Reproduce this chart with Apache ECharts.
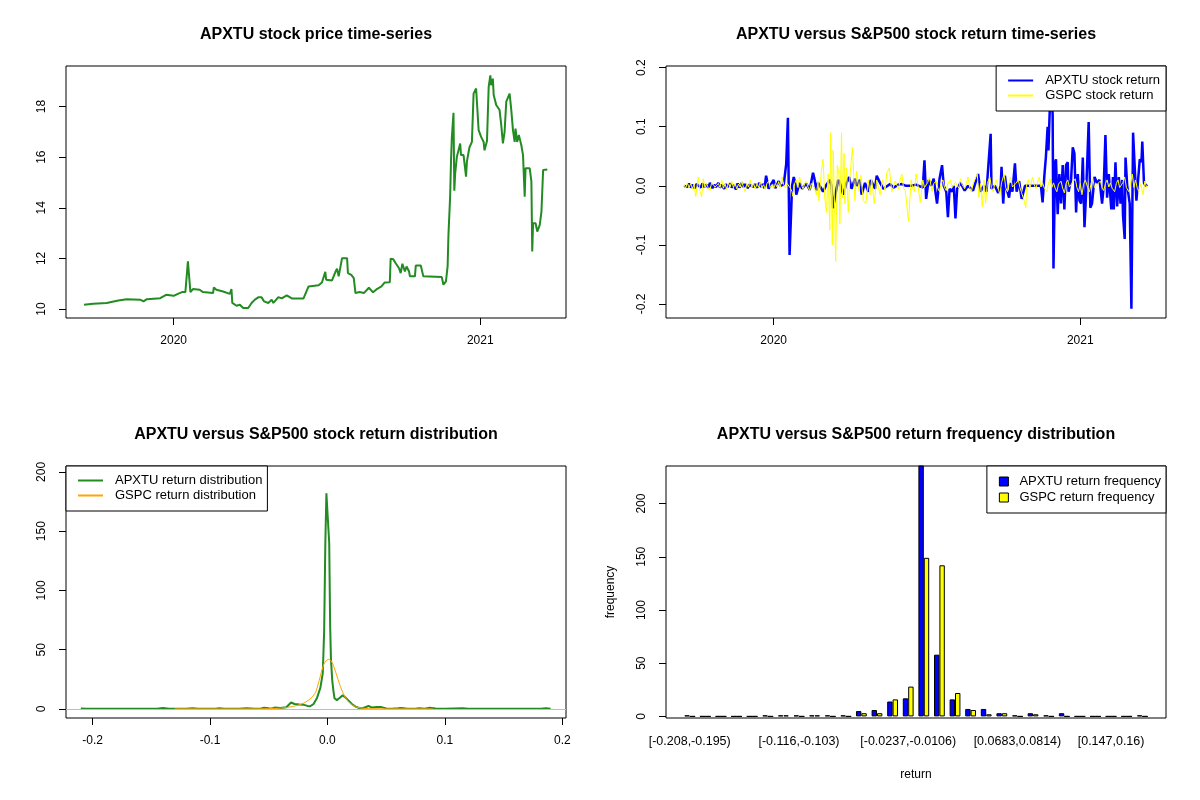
<!DOCTYPE html>
<html>
<head>
<meta charset="utf-8">
<script src="https://cdn.jsdelivr.net/npm/echarts@6/dist/echarts.min.js"></script>
<style>
  html, body { margin: 0; padding: 0; background: #fff; }
  #main { width: 1200px; height: 800px; }
</style>
</head>
<body>
<div id="main"></div>
<script>
// trading days counted from 2019-09-16
var DAY = 86400000;
var T0 = Date.UTC(2019, 8, 16);
function day(s) { return T0 + s * DAY; }

var yearTicks = ['2020-01-01', '2021-01-01'];

// [day, close price]
var apxtuPrice = [
  [0,10.17],[11,10.21],[27,10.24],[41,10.34],[51,10.39],[67,10.37],[71,10.30],[75,10.39],[91,10.43],[98,10.56],
  [107,10.52],[112,10.60],[117,10.67],[121,10.67],[124,11.88],[126,11.88],[127,10.67],[130,10.79],[138,10.76],[142,10.67],
  [154,10.63],[155,10.85],[158,10.76],[166,10.69],[174,10.60],[176,10.79],[177,10.24],[182,10.13],[186,10.17],[190,10.04],
  [196,10.04],[200,10.24],[204,10.37],[208,10.46],[212,10.46],[215,10.30],[220,10.24],[224,10.37],[226,10.24],[232,10.47],
  [236,10.42],[242,10.54],[248,10.42],[262,10.42],[268,10.89],[280,10.94],[284,11.05],[288,11.47],[289,11.16],[296,11.13],
  [300,11.46],[302,11.59],[304,11.29],[308,12.01],[314,12.01],[315,11.42],[319,11.35],[322,11.22],[324,10.63],[329,10.67],
  [331,10.73],[334,10.63],[336,10.56],[340,10.84],[345,10.66],[350,10.80],[352,10.76],[355,10.89],[359,11.05],[365,11.06],
  [366,11.99],[369,11.97],[372,11.81],[376,11.61],[378,11.42],[380,11.79],[383,11.48],[385,11.68],[388,11.48],[389,11.29],
  [395,11.29],[396,11.72],[402,11.72],[405,11.29],[427,11.26],[429,10.96],[432,11.09],[434,11.68],[435,12.93],[437,14.44],
  [438,15.79],[439,16.74],[441,17.75],[442,14.67],[443,15.35],[445,16.01],[447,16.27],[449,16.54],[450,16.08],[453,16.08],
  [456,15.23],[457,15.82],[460,16.38],[463,16.60],[465,18.51],[468,18.71],[470,18.75],[471,17.07],[474,16.80],[477,16.60],
  [478,16.27],[479,16.27],[481,16.64],[482,16.64],[483,18.77],[485,19.23],[486,18.84],[488,19.10],[489,18.45],[492,18.06],
  [496,17.86],[498,17.27],[500,16.54],[502,17.00],[504,18.19],[506,18.19],[508,18.51],[510,17.86],[512,17.07],[514,16.60],
  [515,17.13],[517,16.60],[519,16.87],[522,16.47],[524,16.08],[526,14.44],[527,15.56],[532,15.56],[534,15.03],[535,12.27],
  [536,13.39],[539,13.39],[541,13.06],[544,13.32],[546,13.85],[548,15.49],[553,15.51]
];

// [day, daily return]
var apxtuReturn = [
  [0,0.000],[2,0.003],[4,-0.002],[6,0.004],[8,-0.003],[10,0.002],[13,-0.004],[15,0.003],[17,0.001],[20,-0.003],
  [22,0.004],[24,-0.002],[27,0.002],[29,-0.003],[31,0.005],[34,-0.004],[36,0.002],[38,-0.002],[41,0.005],[43,-0.003],
  [45,0.002],[48,-0.005],[50,0.003],[52,-0.002],[55,0.004],[57,-0.003],[59,0.001],[62,-0.006],[64,0.004],[66,-0.003],
  [69,0.005],[71,-0.002],[73,0.003],[76,-0.004],[78,0.002],[80,0.004],[83,-0.002],[85,0.003],[87,-0.003],[90,0.005],
  [92,-0.002],[94,0.003],[96,-0.004],[98,0.017],[101,-0.005],[104,0.003],[107,0.010],[109,-0.004],[113,0.008],[115,0.000],
  [119,0.002],[122,0.037],[124,0.115],[125,0.115],[126,-0.117],[127,-0.117],[129,0.000],[131,0.015],[133,0.003],[134,-0.015],
  [138,0.005],[141,-0.005],[146,0.004],[150,-0.007],[154,0.022],[156,0.010],[158,-0.008],[160,0.005],[166,-0.010],[170,0.002],
  [174,0.010],[176,0.000],[178,-0.038],[180,-0.020],[184,0.010],[186,0.005],[190,-0.015],[194,0.005],[197,0.015],[200,-0.005],
  [204,0.012],[206,0.000],[210,0.010],[212,-0.015],[216,0.005],[220,-0.010],[223,0.010],[228,-0.005],[230,0.017],[234,0.005],
  [238,-0.005],[246,0.003],[250,-0.003],[256,0.002],[260,0.003],[265,0.000],[271,0.000],[277,0.002],[285,-0.003],[287,0.043],
  [289,-0.022],[292,0.010],[295,0.000],[298,0.012],[302,-0.030],[305,0.012],[308,0.035],[310,0.000],[313,-0.010],[315,-0.053],
  [317,-0.005],[320,-0.010],[322,0.000],[324,-0.055],[326,-0.005],[330,0.005],[335,-0.008],[339,0.000],[345,-0.008],[351,0.020],
  [354,-0.010],[358,0.000],[361,-0.010],[366,0.088],[367,-0.005],[371,0.000],[375,-0.012],[378,0.000],[379,0.032],[381,-0.030],
  [383,0.017],[385,-0.005],[388,-0.020],[390,0.005],[392,-0.010],[395,0.038],[397,-0.010],[400,0.008],[403,-0.022],[405,-0.025],
  [407,0.000],[413,0.000],[422,0.000],[426,0.000],[428,-0.028],[430,0.015],[432,0.050],[434,0.100],[435,0.060],[436,0.105],
  [438,0.187],[440,0.120],[441,-0.140],[443,0.040],[444,0.045],[446,-0.048],[448,0.020],[450,-0.030],[452,0.035],[454,-0.040],
  [456,0.035],[458,0.040],[459,-0.010],[462,0.010],[464,0.065],[466,0.055],[468,-0.045],[470,0.020],[472,-0.025],[474,-0.030],
  [476,0.048],[478,-0.070],[480,-0.010],[483,0.108],[485,-0.037],[487,-0.030],[490,0.015],[493,0.005],[496,0.010],[499,-0.030],
  [501,0.000],[503,0.086],[505,-0.020],[507,0.020],[510,-0.040],[512,0.015],[513,-0.040],[515,0.040],[517,-0.035],[519,0.015],
  [521,-0.030],[523,0.010],[524,-0.050],[526,-0.090],[527,0.048],[529,0.000],[532,-0.030],[534,-0.208],[536,0.090],[538,0.030],
  [540,-0.025],[542,0.010],[544,0.045],[546,0.040],[547,0.075],[549,0.005],[551,0.000],[553,0.002]
];

var gspcReturn = [
  [0,0.002],[2,-0.004],[4,0.005],[6,-0.003],[8,0.004],[10,-0.005],[12,0.003],[14,-0.018],[17,0.015],[19,-0.010],
  [21,-0.018],[23,0.012],[25,-0.003],[27,0.004],[29,-0.004],[31,-0.008],[33,0.006],[35,0.008],[37,-0.002],[39,-0.005],
  [41,0.004],[43,-0.003],[45,0.010],[47,-0.004],[49,0.003],[51,-0.006],[53,0.005],[55,-0.002],[57,0.008],[59,-0.003],
  [61,0.004],[63,-0.005],[65,0.003],[67,-0.002],[69,0.008],[71,-0.003],[73,-0.010],[75,0.004],[77,-0.002],[79,0.010],
  [81,-0.003],[83,0.004],[85,-0.005],[87,0.003],[89,-0.002],[91,0.006],[93,-0.003],[95,0.002],[97,-0.006],[99,0.004],
  [101,0.008],[103,-0.003],[105,0.002],[107,-0.005],[109,0.004],[111,-0.002],[113,0.007],[115,-0.003],[117,0.015],[119,0.002],
  [121,-0.003],[123,0.004],[125,0.005],[127,-0.004],[129,-0.010],[130,-0.018],[132,0.004],[134,0.010],[136,-0.003],[138,0.015],
  [140,0.002],[142,-0.005],[144,0.003],[146,0.008],[148,-0.002],[150,-0.008],[152,0.004],[154,0.005],[156,-0.004],[158,-0.015],
  [160,0.008],[161,-0.025],[164,0.025],[166,0.045],[168,-0.020],[170,-0.045],[172,0.020],[174,-0.075],[175,0.090],[177,-0.100],
  [178,0.060],[180,-0.050],[181,-0.128],[183,0.035],[185,0.020],[186,-0.065],[188,0.090],[189,-0.020],[191,0.055],[192,-0.030],
  [194,0.030],[196,-0.045],[198,0.015],[201,0.065],[204,-0.025],[206,0.025],[209,-0.010],[211,0.018],[214,-0.025],[217,-0.030],
  [220,0.010],[222,-0.015],[224,0.012],[227,-0.030],[230,0.010],[234,-0.015],[237,0.010],[240,-0.008],[242,0.022],[245,0.030],
  [248,-0.010],[252,0.008],[256,-0.005],[258,0.010],[260,0.020],[262,-0.004],[264,-0.008],[268,-0.060],[271,0.010],[273,-0.004],
  [275,-0.010],[277,0.020],[279,0.003],[282,-0.028],[285,0.010],[287,-0.003],[289,-0.005],[291,0.006],[293,0.015],[296,-0.010],
  [298,0.004],[301,0.008],[303,-0.004],[305,-0.010],[307,0.005],[309,0.010],[311,-0.003],[313,-0.008],[315,0.004],[318,0.010],
  [320,-0.003],[322,-0.005],[324,0.006],[326,0.005],[328,-0.004],[330,0.012],[332,0.002],[335,-0.005],[337,0.004],[339,0.015],
  [341,-0.003],[343,-0.010],[345,0.004],[347,0.010],[350,0.020],[352,-0.020],[354,0.004],[356,-0.035],[358,0.010],[360,-0.030],
  [362,0.004],[365,0.015],[367,-0.003],[369,-0.010],[371,0.004],[373,0.010],[375,-0.004],[377,-0.015],[379,0.005],[382,0.020],
  [384,-0.003],[386,-0.010],[388,0.006],[390,0.015],[392,-0.002],[394,-0.005],[396,0.004],[399,0.010],[401,-0.003],[403,-0.012],
  [406,-0.025],[408,-0.037],[409,0.003],[411,0.010],[413,-0.004],[416,0.015],[418,0.002],[420,-0.005],[422,0.006],[424,0.015],
  [426,-0.002],[428,0.005],[430,-0.004],[433,-0.010],[435,0.004],[437,0.012],[439,-0.003],[441,0.005],[443,-0.004],[445,-0.010],
  [447,0.003],[450,0.008],[452,-0.004],[454,-0.012],[456,0.004],[458,0.010],[460,-0.002],[462,-0.005],[464,0.006],[467,0.012],
  [469,-0.003],[471,-0.010],[473,0.004],[475,-0.015],[477,0.003],[479,0.010],[482,-0.004],[484,-0.010],[486,0.005],[488,0.012],
  [490,-0.003],[492,-0.005],[494,0.004],[497,0.008],[499,-0.003],[501,-0.008],[503,0.004],[505,0.010],[507,-0.002],[509,0.005],
  [511,-0.004],[514,-0.010],[516,0.004],[518,0.010],[520,-0.003],[522,-0.005],[524,0.006],[526,0.015],[528,-0.003],[531,-0.010],
  [533,0.004],[535,0.020],[537,-0.003],[539,0.010],[541,-0.004],[543,-0.010],[545,0.004],[548,-0.015],[550,0.008],[552,-0.002],
  [553,0.000]
];

// [return, density]
var apxtuDensity = [
  [-0.210,0.5],[-0.205,0.3],[-0.190,0.2],[-0.170,0.2],[-0.145,0.2],[-0.140,0.8],[-0.135,0.2],[-0.120,0.2],[-0.115,0.7],[-0.110,0.2],
  [-0.095,0.2],[-0.092,0.6],[-0.088,0.2],[-0.075,0.2],[-0.069,0.6],[-0.062,0.3],[-0.057,0.3],[-0.054,1.0],[-0.050,0.6],[-0.047,0.5],
  [-0.045,1.2],[-0.040,0.8],[-0.035,1.5],[-0.031,5.5],[-0.028,4.2],[-0.024,3.8],[-0.020,3.5],[-0.017,2.6],[-0.015,2.2],[-0.012,4.0],
  [-0.009,9.0],[-0.006,18],[-0.004,30],[-0.0028,66],[-0.0018,140],[-0.0009,182],[0.0007,183],[0.0015,140],[0.0023,70],[0.003,42],
  [0.004,25],[0.005,16],[0.006,9],[0.008,7.5],[0.010,9],[0.013,11.5],[0.015,10],[0.018,7],[0.021,4],[0.024,2],
  [0.027,0.8],[0.030,0.6],[0.035,2.5],[0.038,1.2],[0.042,1.6],[0.046,1.6],[0.050,0.5],[0.055,0.2],[0.060,0.6],[0.063,0.9],
  [0.068,0.3],[0.075,0.2],[0.078,0.6],[0.083,0.2],[0.087,1.1],[0.092,0.4],[0.100,0.2],[0.108,0.5],[0.115,0.6],[0.120,0.3],
  [0.140,0.1],[0.170,0.1],[0.182,0.2],[0.186,0.6],[0.190,0.2]
];

var gspcDensity = [
  [-0.130,0.1],[-0.120,0.1],[-0.100,0.05],[-0.080,0.05],[-0.060,0.1],[-0.050,0.3],[-0.040,0.7],[-0.035,1.2],[-0.030,2.0],[-0.025,3.2],
  [-0.020,5.0],[-0.016,7.5],[-0.013,10],[-0.010,14],[-0.007,24],[-0.005,32],[-0.003,38],[-0.001,41],[0.001,42],[0.003,41],
  [0.005,37],[0.007,31],[0.009,25],[0.011,19],[0.013,14],[0.015,10],[0.018,6],[0.021,3.5],[0.024,1.8],[0.028,0.8],
  [0.035,0.3],[0.050,0.1],[0.070,0.1],[0.090,0.05]
];

var binLabels = [
  '[-0.208,-0.195)','[-0.195,-0.181)','[-0.181,-0.168)','[-0.168,-0.155)','[-0.155,-0.142)',
  '[-0.142,-0.129)','[-0.129,-0.116)','[-0.116,-0.103)','[-0.103,-0.0894)','[-0.0894,-0.0763)',
  '[-0.0763,-0.0631)','[-0.0631,-0.05)','[-0.05,-0.0368)','[-0.0368,-0.0237)','[-0.0237,-0.0106)',
  '[-0.0106,0.00257)','[0.00257,0.0157)','[0.0157,0.0289)','[0.0289,0.042)','[0.042,0.0552)',
  '[0.0552,0.0683)','[0.0683,0.0814)','[0.0814,0.0946)','[0.0946,0.108)','[0.108,0.121)',
  '[0.121,0.134)','[0.134,0.147)','[0.147,0.16)','[0.16,0.173)','[0.173,0.187]'
];
var apxtuFreq = [1,0,0,0,0,1,1,1,1,1,1,5,6,14,17,236,58,16,7,7,3,1,3,1,3,0,0,0,0,1];
var gspcFreq  = [0,0,0,0,0,0,1,0,1,0,0,3,3,16,28,149,142,22,6,2,3,0,2,0,0,0,0,0,0,0];
var shownBins = [0, 7, 14, 21, 27];

var FONT = 'Liberation Sans, Arial, sans-serif';

// dates go on a plain value axis holding UTC timestamps
function dateAxis(gi) {
  var ticks = yearTicks.map(function (d) { return Date.parse(d + 'T00:00:00Z'); });
  return {
    type: 'value', gridIndex: gi,
    min: day(-21.5), max: day(575.3),
    axisLine: { show: false, onZero: false },
    splitLine: { show: false },
    axisTick: { show: true, length: 7, lineStyle: { color: '#000' }, customValues: ticks },
    axisLabel: {
      customValues: ticks, margin: 17, color: '#000', fontSize: 12, fontFamily: FONT,
      formatter: function (v) { return String(new Date(v).getUTCFullYear()); }
    }
  };
}

function valAxis(gi, min, max, ticks, digits, isY) {
  return {
    type: 'value', gridIndex: gi, min: min, max: max,
    axisLine: { show: false, onZero: false },
    splitLine: { show: false },
    axisTick: { show: true, length: 7, lineStyle: { color: '#000' }, customValues: ticks },
    axisLabel: {
      customValues: ticks, margin: isY ? 18 : 17, rotate: isY ? 90 : 0,
      color: '#000', fontSize: 12, fontFamily: FONT,
      formatter: function (v) { return v.toFixed(digits); }
    }
  };
}

function legendBox(o) {
  return Object.assign({
    orient: 'vertical', selectedMode: false,
    backgroundColor: '#fff', borderColor: '#000', borderWidth: 1, borderRadius: 0,
    itemGap: 2, itemHeight: 14, itemWidth: 25,
    itemStyle: { opacity: 0 },
    textStyle: { color: '#000', fontSize: 13, fontFamily: FONT, padding: [0, 0, 0, 7] }
  }, o);
}

function titleAt(text, x, y) {
  return {
    text: text, left: x, top: y, textAlign: 'center', padding: 0,
    textStyle: { fontSize: 16, fontWeight: 'bold', color: '#000', fontFamily: FONT }
  };
}

var chart = echarts.init(document.getElementById('main'), null, { renderer: 'canvas' });

var option = {
  animation: false,
  backgroundColor: '#fff',
  title: [
    titleAt('APXTU stock price time-series', 316, 27),
    titleAt('APXTU versus S&P500 stock return time-series', 916, 27),
    titleAt('APXTU versus S&P500 stock return distribution', 316, 427),
    titleAt('APXTU versus S&P500 return frequency distribution', 916, 427)
  ],
  grid: [
    { left: 66, top: 66, width: 500, height: 252, show: true, borderColor: '#000', borderWidth: 1 },
    { left: 666, top: 66, width: 500, height: 252, show: true, borderColor: '#000', borderWidth: 1 },
    { left: 66, top: 466, width: 500, height: 252, show: true, borderColor: '#000', borderWidth: 1 },
    { left: 666, top: 466, width: 500, height: 252, show: true, borderColor: '#000', borderWidth: 1 }
  ],
  legend: [
    legendBox({
      right: 34, top: 66, padding: [8, 6, 9, 11],
      data: ['APXTU stock return', 'GSPC stock return']
    }),
    legendBox({
      left: 66, top: 466, padding: [8, 5, 9, 11],
      data: ['APXTU return distribution', 'GSPC return distribution']
    }),
    legendBox({
      right: 34, top: 466, padding: [9, 5, 9, 12],
      itemWidth: 9, itemHeight: 9, itemGap: 3, icon: 'rect',
      itemStyle: { borderColor: '#000', borderWidth: 1 },
      textStyle: { color: '#000', fontSize: 13, fontFamily: FONT, padding: [0, 0, 0, 6] },
      data: ['APXTU return frequency', 'GSPC return frequency']
    })
  ],
  xAxis: [
    dateAxis(0),
    dateAxis(1),
    valAxis(2, -0.2226, 0.2031, [-0.2, -0.1, 0, 0.1, 0.2], 1, false),
    {
      type: 'value', gridIndex: 3, min: -2.56, max: 93.56,
      name: 'return', nameLocation: 'middle', nameGap: 51,
      nameTextStyle: { color: '#000', fontSize: 12, fontFamily: FONT },
      axisLine: { show: false, onZero: false }, axisTick: { show: false }, splitLine: { show: false },
      axisLabel: {
        customValues: shownBins.map(function (k) { return 3 * k + 2; }),
        margin: 17, color: '#000', fontSize: 12.5, fontFamily: FONT,
        formatter: function (v) { return binLabels[Math.round((v - 2) / 3)]; }
      }
    }
  ],
  yAxis: [
    valAxis(0, 9.645, 19.6, [10, 12, 14, 16, 18], 0, true),
    valAxis(1, -0.2237, 0.2028, [-0.2, -0.1, 0, 0.1, 0.2], 1, true),
    valAxis(2, -7.6, 205, [0, 50, 100, 150, 200], 0, true),
    Object.assign(valAxis(3, -1.5, 235.3, [0, 50, 100, 150, 200], 0, true), {
      name: 'frequency', nameLocation: 'middle', nameGap: 49, nameRotate: 90,
      nameTextStyle: { color: '#000', fontSize: 12, fontFamily: FONT }
    })
  ],
  series: [
    {
      name: 'APXTU price', type: 'line', xAxisIndex: 0, yAxisIndex: 0,
      symbol: 'none', lineStyle: { color: '#228B22', width: 2 }, itemStyle: { color: '#228B22' },
      data: apxtuPrice.map(function (p) { return [day(p[0]), p[1]]; })
    },
    {
      name: 'APXTU stock return', type: 'line', xAxisIndex: 1, yAxisIndex: 1,
      symbol: 'none', lineStyle: { color: '#0000FF', width: 2.5 }, itemStyle: { color: '#0000FF' },
      data: apxtuReturn.map(function (p) { return [day(p[0]), p[1]]; })
    },
    {
      name: 'GSPC stock return', type: 'line', xAxisIndex: 1, yAxisIndex: 1,
      symbol: 'none', lineStyle: { color: '#FFFF00', width: 1 }, itemStyle: { color: '#FFFF00' },
      data: gspcReturn.map(function (p) { return [day(p[0]), p[1]]; })
    },
    {
      name: 'APXTU return distribution', type: 'line', xAxisIndex: 2, yAxisIndex: 2,
      symbol: 'none', lineStyle: { color: '#228B22', width: 2 }, itemStyle: { color: '#228B22' },
      data: apxtuDensity,
      markLine: {
        silent: true, symbol: 'none', label: { show: false },
        lineStyle: { color: '#BEBEBE', width: 1, type: 'solid' },
        data: [{ yAxis: 0 }]
      }
    },
    {
      name: 'GSPC return distribution', type: 'line', xAxisIndex: 2, yAxisIndex: 2,
      symbol: 'none', lineStyle: { color: '#FFA500', width: 1 }, itemStyle: { color: '#FFA500' },
      data: gspcDensity
    },
    {
      name: 'APXTU return frequency', type: 'bar', xAxisIndex: 3, yAxisIndex: 3,
      barWidth: 5.4, barGap: '0%',
      itemStyle: { color: '#0000FF', borderColor: '#000', borderWidth: 1 },
      data: apxtuFreq.map(function (v, k) { return [3 * k + 2, v]; })
    },
    {
      name: 'GSPC return frequency', type: 'bar', xAxisIndex: 3, yAxisIndex: 3,
      barWidth: 5.4, barGap: '0%',
      itemStyle: { color: '#FFFF00', borderColor: '#000', borderWidth: 1 },
      data: gspcFreq.map(function (v, k) { return [3 * k + 2, v]; })
    }
  ]
};

chart.setOption(option);
</script>
</body>
</html>
